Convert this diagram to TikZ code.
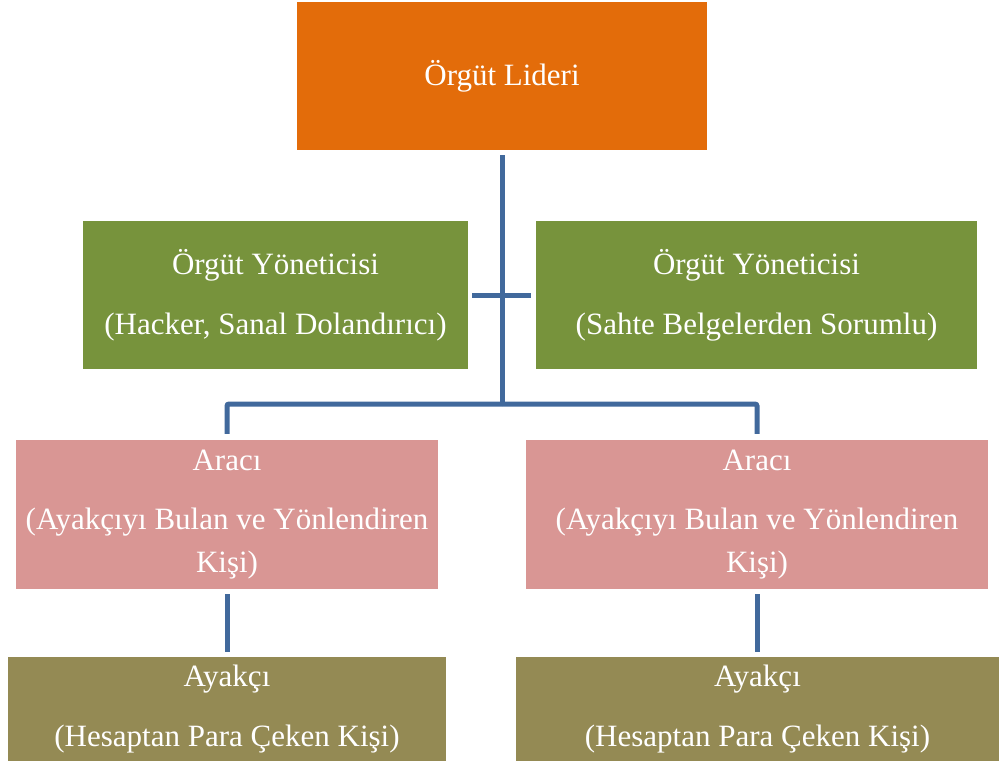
\documentclass[tikz,border=0pt]{standalone}
\usepackage{fontspec}
\setmainfont{Liberation Serif}
\definecolor{cOrange}{HTML}{E36C0A}
\definecolor{cGreen}{HTML}{77933C}
\definecolor{cPink}{HTML}{D99694}
\definecolor{cOlive}{HTML}{948A54}
\definecolor{cLine}{HTML}{41699C}
\begin{document}
\begin{tikzpicture}[x=1pt,y=-1pt,
  box/.style={rectangle, draw=none, text=white, align=center, inner sep=0pt,
    font=\fontsize{31}{37}\selectfont},
  conn/.style={draw=cLine, line width=5pt}]
\useasboundingbox (0,0) rectangle (1005,765);
\node[box, fill=cOrange, minimum width=410pt, minimum height=148pt] (lider) at (502,76) {Örgüt Lideri};
\node[box, fill=cGreen, minimum width=385pt, minimum height=148pt] (yon1) at (275.5,295) {Örgüt Yöneticisi\\[23pt](Hacker, Sanal Dolandırıcı)};
\node[box, fill=cGreen, minimum width=441pt, minimum height=148pt] (yon2) at (756.5,295) {Örgüt Yöneticisi\\[23pt](Sahte Belgelerden Sorumlu)};
\node[box, fill=cPink, minimum width=422pt, minimum height=149pt] (araci1) at (227,514.5) {Aracı\\[22pt](Ayakçıyı Bulan ve Yönlendiren\\[6pt]Kişi)};
\node[box, fill=cPink, minimum width=462pt, minimum height=149pt] (araci2) at (757,514.5) {Aracı\\[22pt](Ayakçıyı Bulan ve Yönlendiren\\[6pt]Kişi)};
\node[box, fill=cOlive, minimum width=438pt, minimum height=104pt] (ayakci1) at (227,709) {Ayakçı\\[23pt](Hesaptan Para Çeken Kişi)};
\node[box, fill=cOlive, minimum width=483pt, minimum height=104pt] (ayakci2) at (757.5,709) {Ayakçı\\[23pt](Hesaptan Para Çeken Kişi)};
\coordinate (bus) at (502,404);
\draw[conn, shorten <=5pt] (lider.south) -- (bus);
\draw[conn, shorten <=4pt, shorten >=5pt] (yon1.east) -- (yon2.west);
\draw[conn, shorten >=6pt, rounded corners=2pt] (bus) -| (araci1.north);
\draw[conn, shorten >=6pt, rounded corners=2pt] (bus) -| (araci2.north);
\draw[conn, shorten <=5pt, shorten >=5pt] (araci1.south) -- (ayakci1.north);
\draw[conn, shorten <=5pt, shorten >=5pt] (araci2.south) -- (ayakci2.north -| araci2.south);
\end{tikzpicture}
\end{document}
